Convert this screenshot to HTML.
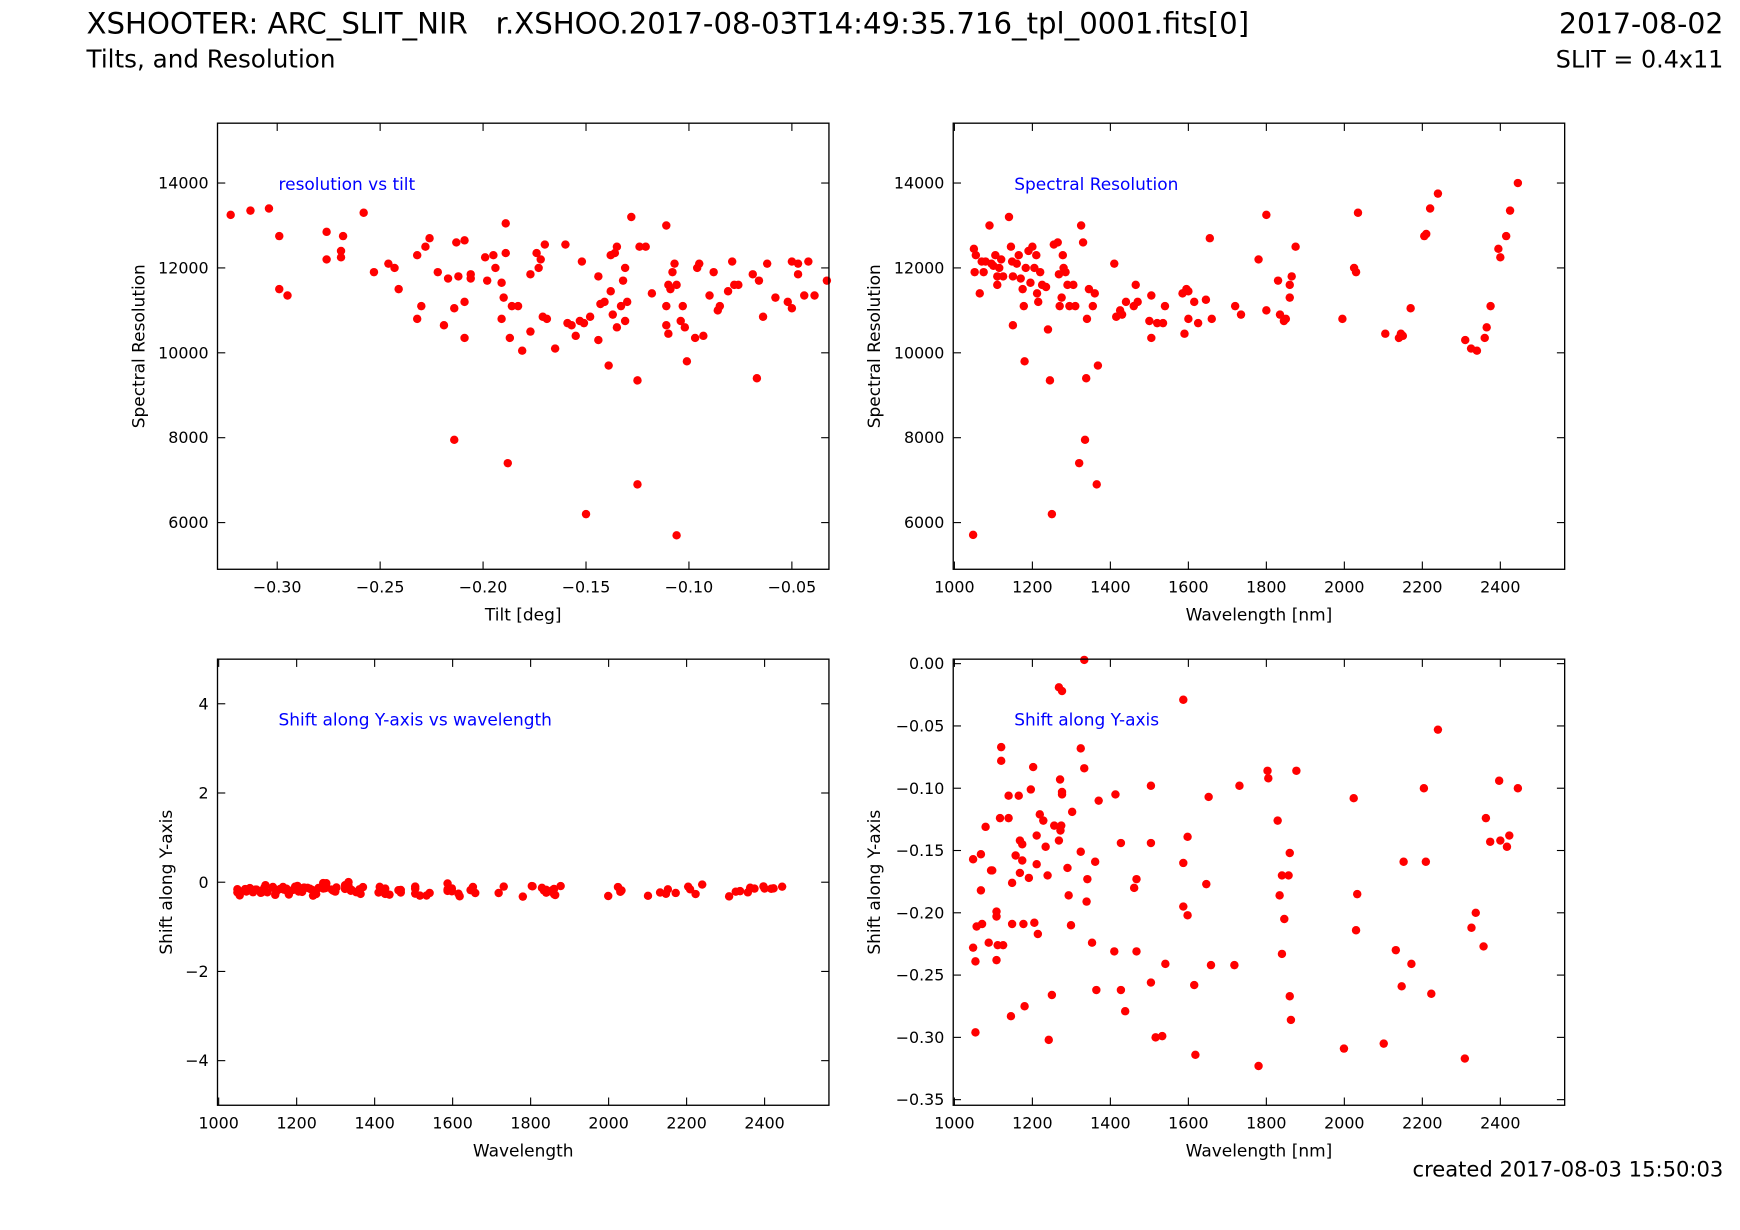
<!DOCTYPE html>
<html><head><meta charset="utf-8"><style>
html,body{margin:0;padding:0;background:#fff;}
svg{display:block;font-family:"DejaVu Sans","Liberation Sans",sans-serif;}
text{white-space:pre;}
</style></head><body>
<svg id="fig" width="1740" height="1230" viewBox="0 0 1568 1108.4" xmlns="http://www.w3.org/2000/svg" xml:space="preserve">
<rect width="1568" height="1109" fill="#fff"/>
<text x="78" y="30" font-size="26.3">XSHOOTER: ARC_SLIT_NIR   r.XSHOO.2017-08-03T14:49:35.716_tpl_0001.fits[0]</text>
<text x="78" y="61" font-size="22.2">Tilts, and Resolution</text>
<text x="1553" y="30" font-size="25.5" text-anchor="end">2017-08-02</text>
<text x="1553" y="61" font-size="21.5" text-anchor="end">SLIT = 0.4x11</text>
<text x="1553" y="1060" font-size="19" text-anchor="end">created 2017-08-03 15:50:03</text>
</svg>
<script>
// Spectral resolution vs wavelength (top-right)
const resWl = [1048,1050,1055,1052,1065,1070,1075,1080,1090,1095,1100,1105,1110,1110,1115,1120,1125,1140,1145,1148,1150,1150,1160,1165,1170,1175,1178,1180,1183,1190,1195,1200,1205,1210,1212,1215,1220,1225,1235,1240,1245,1250,1255,1265,1268,1270,1275,1278,1280,1285,1290,1295,1305,1310,1320,1325,1330,1335,1338,1340,1345,1355,1360,1365,1368,1410,1415,1425,1430,1440,1460,1465,1470,1500,1505,1505,1520,1535,1540,1585,1590,1595,1600,1600,1615,1625,1645,1655,1660,1720,1735,1780,1800,1800,1830,1835,1845,1850,1860,1860,1865,1875,1995,2025,2030,2035,2105,2140,2145,2150,2170,2205,2210,2220,2240,2310,2325,2340,2360,2365,2375,2395,2400,2415,2425,2445];
const resVal = [5710,12450,12300,11900,11400,12150,11900,12150,13000,12100,12050,12300,11800,11600,12000,12200,11800,13200,12500,12150,11800,10650,12100,12300,11750,11500,11100,9800,12000,12400,11650,12500,12000,12300,11400,11200,11900,11600,11550,10550,9350,6200,12550,12600,11850,11100,11300,12300,12000,11900,11600,11100,11600,11100,7400,13000,12600,7950,9400,10800,11500,11100,11400,6900,9700,12100,10850,11000,10900,11200,11100,11600,11200,10750,10350,11350,10700,10700,11100,11400,10450,11500,10800,11450,11200,10700,11250,12700,10800,11100,10900,12200,13250,11000,11700,10900,10750,10800,11300,11600,11800,12500,10800,12000,11900,13300,10450,10350,10450,10400,11050,12750,12800,13400,13750,10300,10100,10050,10350,10600,11100,12450,12250,12750,13350,14000];
// Resolution vs tilt (top-left)
const tiltVal = [-0.3226,-0.313,-0.304,-0.299,-0.299,-0.295,-0.276,-0.276,-0.269,-0.268,-0.269,-0.258,-0.253,-0.246,-0.243,-0.241,-0.232,-0.232,-0.230,-0.228,-0.226,-0.222,-0.219,-0.217,-0.214,-0.214,-0.212,-0.213,-0.209,-0.209,-0.209,-0.206,-0.206,-0.199,-0.198,-0.195,-0.194,-0.191,-0.191,-0.190,-0.189,-0.189,-0.188,-0.187,-0.186,-0.183,-0.181,-0.177,-0.177,-0.174,-0.173,-0.172,-0.171,-0.170,-0.169,-0.165,-0.160,-0.159,-0.157,-0.155,-0.153,-0.152,-0.151,-0.150,-0.148,-0.144,-0.144,-0.143,-0.141,-0.139,-0.138,-0.138,-0.137,-0.136,-0.135,-0.135,-0.133,-0.132,-0.131,-0.131,-0.130,-0.128,-0.125,-0.125,-0.124,-0.121,-0.118,-0.111,-0.111,-0.111,-0.110,-0.110,-0.109,-0.108,-0.107,-0.106,-0.106,-0.104,-0.103,-0.102,-0.101,-0.097,-0.096,-0.095,-0.093,-0.090,-0.088,-0.086,-0.085,-0.081,-0.079,-0.078,-0.076,-0.069,-0.067,-0.066,-0.064,-0.062,-0.058,-0.052,-0.050,-0.050,-0.047,-0.047,-0.044,-0.042,-0.039,-0.033];
const tiltRes = [13250,13350,13400,12750,11500,11350,12850,12200,12250,12750,12400,13300,11900,12100,12000,11500,12300,10800,11100,12500,12700,11900,10650,11750,7950,11050,11800,12600,12650,10350,11200,11850,11750,12250,11700,12300,12000,11650,10800,11300,13050,12350,7400,10350,11100,11100,10050,11850,10500,12350,12000,12200,10850,12550,10800,10100,12550,10700,10650,10400,10750,12150,10700,6200,10850,11800,10300,11150,11200,9700,11450,12300,10900,12350,12500,10600,11100,11700,12000,10750,11200,13200,9350,6900,12500,12500,11400,13000,11100,10650,11600,10450,11500,11900,12100,11600,5700,10750,11100,10600,9800,10350,12000,12100,10400,11350,11900,11000,11100,11450,12150,11600,11600,11850,9400,11700,10850,12100,11300,11200,12150,11050,12100,11850,11350,12150,11350,11700];
// Shift along Y vs wavelength (bottom panels)
const shiftWl = [1048,1048,1054,1054,1057,1068,1068,1071,1080,1088,1094,1097,1108,1108,1108,1111,1117,1120,1120,1125,1139,1139,1145,1148,1148,1157,1165,1168,1168,1174,1174,1177,1180,1191,1196,1202,1205,1211,1211,1214,1219,1228,1234,1239,1242,1250,1256,1268,1268,1271,1272,1274,1276,1276,1276,1290,1293,1299,1302,1324,1324,1333,1333,1339,1341,1353,1361,1364,1370,1410,1413,1427,1427,1438,1461,1467,1467,1504,1504,1504,1516,1533,1541,1587,1587,1587,1598,1598,1615,1618,1646,1652,1658,1718,1731,1780,1803,1805,1829,1834,1840,1840,1846,1857,1860,1860,1863,1877,1999,2024,2033,2030,2101,2132,2147,2152,2172,2204,2209,2223,2240,2309,2326,2337,2357,2363,2374,2397,2400,2417,2423,2445];
const shiftVal = [-0.157,-0.228,-0.239,-0.296,-0.211,-0.182,-0.153,-0.209,-0.131,-0.224,-0.166,-0.166,-0.199,-0.203,-0.238,-0.226,-0.124,-0.067,-0.078,-0.226,-0.106,-0.124,-0.283,-0.176,-0.209,-0.154,-0.106,-0.142,-0.168,-0.145,-0.158,-0.209,-0.275,-0.172,-0.101,-0.083,-0.208,-0.138,-0.161,-0.217,-0.121,-0.126,-0.147,-0.170,-0.302,-0.266,-0.130,-0.142,-0.019,-0.093,-0.134,-0.130,-0.105,-0.103,-0.022,-0.164,-0.186,-0.210,-0.119,-0.068,-0.151,-0.084,0.003,-0.191,-0.173,-0.224,-0.159,-0.262,-0.110,-0.231,-0.105,-0.144,-0.262,-0.279,-0.180,-0.231,-0.173,-0.098,-0.144,-0.256,-0.300,-0.299,-0.241,-0.029,-0.160,-0.195,-0.139,-0.202,-0.258,-0.314,-0.177,-0.107,-0.242,-0.242,-0.098,-0.323,-0.086,-0.092,-0.126,-0.186,-0.170,-0.233,-0.205,-0.170,-0.152,-0.267,-0.286,-0.086,-0.309,-0.108,-0.185,-0.214,-0.305,-0.230,-0.259,-0.159,-0.241,-0.100,-0.159,-0.265,-0.053,-0.317,-0.212,-0.200,-0.227,-0.124,-0.143,-0.094,-0.142,-0.147,-0.138,-0.100];
const wlTicks = [1000,1200,1400,1600,1800,2000,2200,2400];
const resTicks = [6000,8000,10000,12000,14000];
const tiltTicks = [-0.30,-0.25,-0.20,-0.15,-0.10,-0.05];
const shiftWideTicks = [-4,-2,0,2,4];
const shiftTicks = [0,-0.05,-0.10,-0.15,-0.20,-0.25,-0.30,-0.35];

const NS='http://www.w3.org/2000/svg';
const svg=document.getElementById('fig');
function mk(tag,attrs,parent){const e=document.createElementNS(NS,tag);for(const k in attrs)e.setAttribute(k,attrs[k]);(parent||svg).appendChild(e);return e;}
function fmt(v,d){const s=Math.abs(v).toFixed(d);return (v<-1e-9?'\u2212':'')+s;}

function panel(o){
  const g=mk('g',{});
  
  
  const sx=v=>o.x0+(v-o.xmin)/(o.xmax-o.xmin)*(o.x1-o.x0);
  const sy=v=>o.y1-(v-o.ymin)/(o.ymax-o.ymin)*(o.y1-o.y0);
  const pts=mk('g',{},g);
  
  
  const cp='cp'+o.name;
  const clip=mk('clipPath',{id:cp},g);
  mk('rect',{x:o.x0,y:o.y0-6,width:o.x1-o.x0+6,height:o.y1-o.y0+6},clip);
  pts.setAttribute('clip-path','url(#'+cp+')');
  for(let i=0;i<o.xs.length;i++){
    const c=mk('circle',{cx:sx(o.xs[i]),cy:sy(o.ys[i]),r:3.8,fill:'#ff0000'},pts);
    
    
  }
  const fr=mk('rect',{x:o.x0,y:o.y0,width:o.x1-o.x0,height:o.y1-o.y0,fill:'none',stroke:'#000','stroke-width':1.2},g);
  
  
  o.xt.forEach(v=>{
    const x=sx(v);
    mk('line',{x1:x,x2:x,y1:o.y1,y2:o.y1-7,stroke:'#000','stroke-width':1},g);
    mk('line',{x1:x,x2:x,y1:o.y0,y2:o.y0+7,stroke:'#000','stroke-width':1},g);
    const t=mk('text',{x:x,y:o.y1+21,'font-size':14.3,'text-anchor':'middle'},g);
    t.textContent=fmt(v,o.xd);
    
    
  });
  o.yt.forEach(v=>{
    const y=sy(v);
    mk('line',{x1:o.x0,x2:o.x0+7,y1:y,y2:y,stroke:'#000','stroke-width':1},g);
    mk('line',{x1:o.x1,x2:o.x1-7,y1:y,y2:y,stroke:'#000','stroke-width':1},g);
    const t=mk('text',{x:o.x0-8,y:y+5,'font-size':14.3,'text-anchor':'end'},g);
    t.textContent=fmt(v,o.yd);
    
    
  });
  const xl=mk('text',{x:(o.x0+o.x1)/2,y:o.y1+46,'font-size':15.3,'text-anchor':'middle'},g);
  xl.textContent=o.xlabel;
  
  
  const yl=mk('text',{x:0,y:0,'font-size':15.3,'text-anchor':'middle',transform:'translate('+o.ylx+','+(o.y0+o.y1)/2+') rotate(-90)'},g);
  yl.textContent=o.ylabel;
  
  
  const an=mk('text',{x:o.x0+55,y:o.y0+60,'font-size':15.3,fill:'#0000ff'},g);
  an.textContent=o.note;
  
  
}
panel({name:'resolution-vs-tilt-panel',x0:196,x1:747,y0:111,y1:513,xmin:-0.329,xmax:-0.032,ymin:4900,ymax:15410,xs:tiltVal,ys:tiltRes,xt:tiltTicks,yt:resTicks,xd:2,yd:0,xlabel:'Tilt [deg]',ylabel:'Spectral Resolution',ylx:130,note:'resolution vs tilt'});
panel({name:'spectral-resolution-panel',x0:859,x1:1410,y0:111,y1:513,xmin:997,xmax:2565,ymin:4900,ymax:15410,xs:resWl,ys:resVal,xt:wlTicks,yt:resTicks,xd:0,yd:0,xlabel:'Wavelength [nm]',ylabel:'Spectral Resolution',ylx:793,note:'Spectral Resolution'});
panel({name:'shift-vs-wavelength-panel',x0:196,x1:747,y0:594,y1:996,xmin:997,xmax:2565,ymin:-5,ymax:5,xs:shiftWl,ys:shiftVal,xt:wlTicks,yt:shiftWideTicks,xd:0,yd:0,xlabel:'Wavelength',ylabel:'Shift along Y-axis',ylx:155,note:'Shift along Y-axis vs wavelength'});
panel({name:'shift-along-y-panel',x0:859,x1:1410,y0:594,y1:996,xmin:997,xmax:2565,ymin:-0.3545,ymax:0.0036,xs:shiftWl,ys:shiftVal,xt:wlTicks,yt:shiftTicks,xd:0,yd:2,xlabel:'Wavelength [nm]',ylabel:'Shift along Y-axis',ylx:793,note:'Shift along Y-axis'});
</script>
</body></html>
